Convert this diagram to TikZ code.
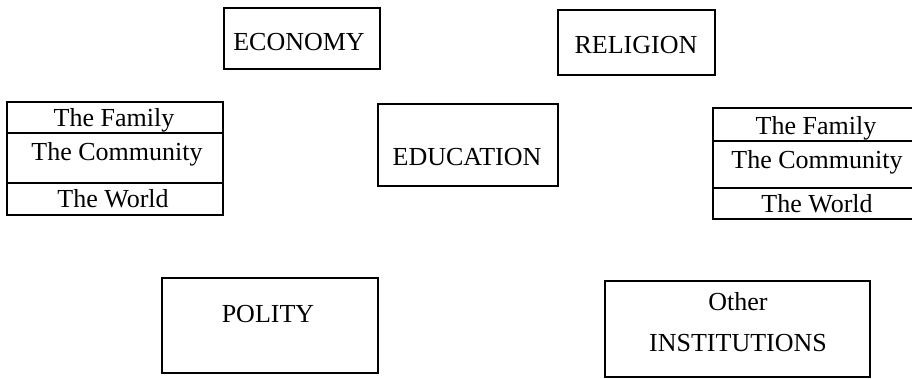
\documentclass[tikz,border=0pt]{standalone}
\usepackage{fontspec}
\setmainfont{Liberation Serif}
\begin{document}
\begin{tikzpicture}[x=1pt,y=-1pt,
  box/.style={draw=black, line width=1.2pt, inner sep=0pt, outer sep=0pt},
  txt/.style={font=\fontsize{26}{30}\selectfont, inner sep=0pt, anchor=base}]
\useasboundingbox (0,0) rectangle (912,378);
% top boxes
\node[box, minimum width=156pt, minimum height=61pt] (eco) at (302,38.5) {};
\node[txt] (ecot) at (299,50) {ECONOMY};
\node[box, minimum width=157pt, minimum height=65pt] (rel) at (636.5,42.5) {};
\node[txt] (relt) at (636,53) {RELIGION};
% left stack
\node[box, minimum width=216pt, minimum height=31pt] (fam1) at (115,117.5) {};
\node[box, minimum width=216pt, minimum height=50pt] (com1) at (115,158) {};
\node[box, minimum width=216pt, minimum height=32pt] (wor1) at (115,199) {};
\node[txt] (fam1t) at (114,126) {The Family};
\node[txt] (com1t) at (117,160) {The Community};
\node[txt] (wor1t) at (113,207) {The World};
% centre
\node[box, minimum width=180pt, minimum height=82pt] (edu) at (468,145) {};
\node[txt] (edut) at (467,165) {EDUCATION};
% right stack (runs off the right edge)
\node[box, minimum width=207pt, minimum height=33pt] (fam2) at (816.5,124.5) {};
\node[box, minimum width=207pt, minimum height=47pt] (com2) at (816.5,164.5) {};
\node[box, minimum width=207pt, minimum height=31pt] (wor2) at (816.5,203.5) {};
\node[txt] (fam2t) at (816,134) {The Family};
\node[txt] (com2t) at (817,168) {The Community};
\node[txt] (wor2t) at (817,212) {The World};
% bottom boxes
\node[box, minimum width=216pt, minimum height=95pt] (pol) at (270,325.5) {};
\node[txt] (polt) at (268,322) {POLITY};
\node[box, minimum width=265pt, minimum height=96pt] (oth) at (737.5,329) {};
\node[txt] (otht1) at (738,310) {Other};
\node[txt] (otht2) at (738,351) {INSTITUTIONS};
\end{tikzpicture}
\end{document}
